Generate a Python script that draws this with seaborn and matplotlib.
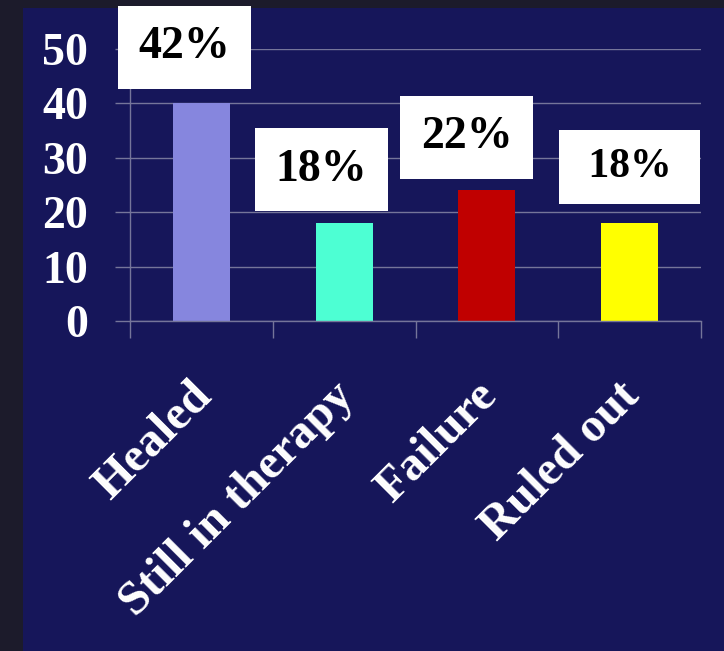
import matplotlib
matplotlib.use("Agg")
import matplotlib.pyplot as plt
import matplotlib.transforms as mtransforms
from matplotlib.patches import Rectangle
import seaborn as sns
import pandas as pd

# ---- data ----
categories = ["Healed", "Still in therapy", "Failure", "Ruled out"]
values = [40, 18, 24, 18]
pct_labels = ["42%", "18%", "22%", "18%"]
yticks = [0, 10, 20, 30, 40, 50]

# ---- style ----
bar_colors = ["#8686de", "#4dffd3", "#c00000", "#ffff00"]
navy = "#16165a"
outer = "#1c1b2b"
grid_c = "#75759a"
label_dx = [-0.12, -0.16, -0.14, 0.0]
label_dy = [10.3, 9.8, 9.8, 10.3]
label_fs = [33, 33, 33, 30]
label_pad = [0.45, 0.45, 0.45, 0.44]
label_space = ["", "", "", " "]

sns.set_theme(style="white")
plt.rcParams["font.family"] = ["Liberation Serif", "DejaVu Serif"]

df = pd.DataFrame({"cat": categories, "val": values})

fig = plt.figure(figsize=(7.24, 6.51), dpi=100, facecolor=outer)
fig.add_artist(Rectangle((23 / 724, 0), 1 - 23 / 724, 1 - 8 / 651,
                         transform=fig.transFigure, facecolor=navy,
                         edgecolor="none", zorder=-10))
ax = fig.add_axes([130 / 724, 1 - 321 / 651, (701 - 130) / 724, (321 - 49) / 651])
ax.set_facecolor(navy)

sns.barplot(data=df, x="cat", y="val", hue="cat", order=categories,
            palette=dict(zip(categories, bar_colors)), width=0.4,
            legend=False, ax=ax, saturation=1, linewidth=0)

ax.set_xlim(-0.5, len(categories) - 0.5)
ax.set_ylim(0, 50)
ax.set_xlabel("")
ax.set_ylabel("")

# grid
ax.set_yticks(yticks)
ax.yaxis.grid(True, color=grid_c, linewidth=1.0)
ax.set_axisbelow(True)
for s in ["top", "right"]:
    ax.spines[s].set_visible(False)
for s in ["left", "bottom"]:
    ax.spines[s].set_color(grid_c)
    ax.spines[s].set_linewidth(1.0)

ax.tick_params(axis="y", which="major", left=True, length=11, width=1, color=grid_c,
               direction="out", pad=19, labelsize=33, labelcolor="white")
for t in ax.get_yticklabels():
    t.set_fontweight("bold")

# category ticks at boundaries
ax.set_xticks([i - 0.5 for i in range(len(categories) + 1)], minor=True)
ax.set_xticks(range(len(categories)))
ax.set_xticklabels(categories, rotation=45, ha="right", va="top",
                   fontsize=35, fontweight="bold", color="white")
ax.tick_params(axis="x", which="minor", bottom=True, length=12, width=1,
               color=grid_c, direction="out")
ax.tick_params(axis="x", which="major", bottom=True, length=0, pad=38)
offset = mtransforms.ScaledTranslation(19 / 100, 0, fig.dpi_scale_trans)
for t in ax.get_xticklabels():
    t.set_transform(t.get_transform() + offset)

# value labels
for i, (v, lab) in enumerate(zip(values, pct_labels)):
    sp = label_space[i]
    ax.text(i + label_dx[i], v + label_dy[i], sp + lab + sp, ha="center", va="center",
            fontsize=label_fs[i], fontweight="bold", color="black", clip_on=False,
            bbox=dict(boxstyle=f"square,pad={label_pad[i]}", facecolor="white",
                      edgecolor="none"),
            zorder=5)

fig.savefig("out.png", dpi=100, facecolor=outer)
